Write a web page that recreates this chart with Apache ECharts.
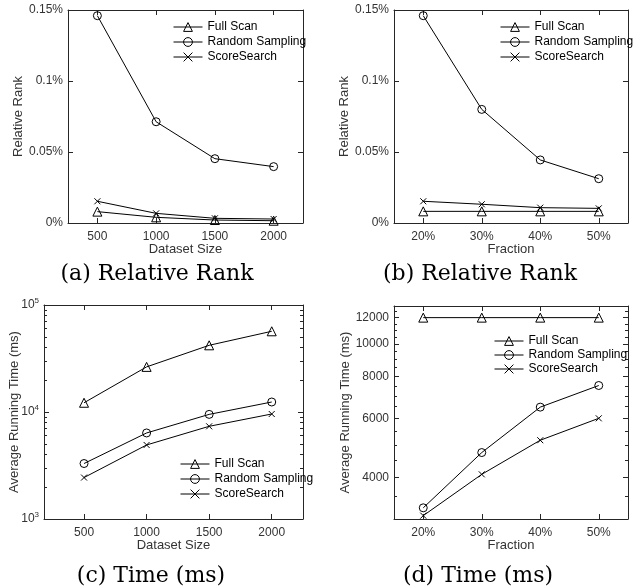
<!DOCTYPE html>
<html>
<head>
<meta charset="utf-8">
<script src="https://cdn.jsdelivr.net/npm/echarts@6/dist/echarts.min.js"></script>
<style>
  html, body { margin: 0; padding: 0; background: #fff; }
  #chart { width: 634px; height: 587px; }
</style>
</head>
<body>
<div id="chart"></div>
<script>
// x values
const sizes = [500, 1000, 1500, 2000];
const fractions = [20, 30, 40, 50];

// (a) relative rank (%) vs dataset size
const rankSizeFull = [0.008, 0.004, 0.0021, 0.0016];
const rankSizeRandom = [0.146, 0.0713, 0.0453, 0.0397];
const rankSizeScore = [0.0153, 0.0068, 0.0033, 0.0028];

// (b) relative rank (%) vs fraction
const rankFracFull = [0.0082, 0.0082, 0.0082, 0.0082];
const rankFracRandom = [0.146, 0.080, 0.0444, 0.0312];
const rankFracScore = [0.0153, 0.0132, 0.0108, 0.0103];

// (c) time (ms) vs dataset size
const timeSizeFull = [12200, 26400, 42000, 56800];
const timeSizeRandom = [3300, 6370, 9500, 12400];
const timeSizeScore = [2440, 4920, 7350, 9580];

// (d) time (ms) vs fraction
const timeFracFull = [12000, 12000, 12000, 12000];
const timeFracRandom = [3240, 4740, 6480, 7520];
const timeFracScore = [3070, 4080, 5160, 6000];

// ticks
const sizeTicks = [500, 1000, 1500, 2000];
const fracTicks = [20, 30, 40, 50];
const rankTicks = [0, 0.05, 0.1, 0.15];
const logTicksC = [1000, 10000, 100000];
const logMinorC = [2000, 3000, 4000, 5000, 6000, 7000, 8000, 9000,
  20000, 30000, 40000, 50000, 60000, 70000, 80000, 90000];
const timeTicksD = [4000, 6000, 8000, 10000, 12000];
const timeMinorD = [3500, 4500, 5000, 5500, 6500, 7000, 7500, 8500, 9000, 9500,
  10500, 11000, 11500, 12500];

const names = ['Full Scan', 'Random Sampling', 'ScoreSearch'];
const symbols = ['triangle', 'circle', 'path://M0,0L10,10M10,0L0,10'];
const symbolSizes = [9, 8, 6];

const axisColor = '#262626';
const labelColor = '#333';
const sans = '"Liberation Sans", Arial, sans-serif';

const grids = [], xAxes = [], yAxes = [], series = [], legends = [];

function panel(p) {
    const g = grids.length;
    grids.push({ left: p.box[0], top: p.box[1], width: p.box[2], height: p.box[3] });

    const xi = xAxes.length;
    xAxes.push({
        type: 'value', gridIndex: g, min: p.xMin, max: p.xMax,
        axisLine: { onZero: false, lineStyle: { color: axisColor } },
        axisTick: { inside: true, length: 5, customValues: p.xTicks, lineStyle: { color: axisColor } },
        axisLabel: { customValues: p.xTicks, formatter: p.xFmt, color: labelColor, fontSize: 12, fontFamily: sans, margin: 8 },
        splitLine: { show: false },
        name: p.xName, nameLocation: 'middle', nameGap: 20, nameMoveOverlap: false,
        nameTextStyle: { color: labelColor, fontSize: 13, fontFamily: sans }
    });
    xAxes.push({
        type: 'value', gridIndex: g, position: 'top', min: p.xMin, max: p.xMax,
        axisLine: { onZero: false, lineStyle: { color: axisColor } },
        axisTick: { inside: true, length: 5, customValues: p.xTicks, lineStyle: { color: axisColor } },
        axisLabel: { show: false }, splitLine: { show: false }
    });

    const yi = yAxes.length;
    const yType = p.log ? 'log' : 'value';
    yAxes.push({
        type: yType, logBase: 10, gridIndex: g, min: p.yMin, max: p.yMax,
        axisLine: { show: true, onZero: false, lineStyle: { color: axisColor } },
        axisTick: { show: true, inside: true, length: 5, customValues: p.yTicks, lineStyle: { color: axisColor } },
        axisLabel: { customValues: p.yTicks, formatter: p.yFmt, color: labelColor, fontSize: 12, fontFamily: sans, margin: 5, rich: p.rich },
        splitLine: { show: false },
        name: p.yName, nameLocation: 'middle', nameGap: p.yGap, nameRotate: 90, nameMoveOverlap: false,
        nameTextStyle: { color: labelColor, fontSize: 13, fontFamily: sans }
    });
    yAxes.push({
        type: yType, logBase: 10, gridIndex: g, position: 'right', min: p.yMin, max: p.yMax,
        axisLine: { show: true, onZero: false, lineStyle: { color: axisColor } },
        axisTick: { show: true, inside: true, length: 5, customValues: p.yTicks, lineStyle: { color: axisColor } },
        axisLabel: { show: false }, splitLine: { show: false }
    });
    if (p.yMinor) {
        ['left', 'right'].forEach(side => {
            yAxes.push({
                type: yType, logBase: 10, gridIndex: g, position: side, min: p.yMin, max: p.yMax,
                axisLine: { show: false },
                axisTick: { show: true, inside: true, length: 3, customValues: p.yMinor, lineStyle: { color: axisColor } },
                axisLabel: { show: false }, splitLine: { show: false }
            });
        });
    }

    p.ys.forEach((ys, k) => {
        series.push({
            type: 'line', name: names[k], xAxisIndex: xi, yAxisIndex: yi,
            data: p.xs.map((x, i) => [x, ys[i]]),
            symbol: symbols[k], symbolSize: symbolSizes[k], showSymbol: true,
            lineStyle: { color: '#000', width: 1 },
            itemStyle: { color: 'rgba(0,0,0,0)', borderColor: '#000', borderWidth: 1 },
            emphasis: { disabled: true }, z: 3 - k
        });
    });

    legends.push({
        orient: 'vertical', left: p.legend[0], top: p.legend[1], padding: 0,
        data: names, itemWidth: 29, itemHeight: 11, itemGap: p.legendGap, itemTextGap: 1,
        textStyle: { color: '#000', fontSize: 12, fontFamily: sans },
        itemStyle: { borderWidth: 1 }, lineStyle: { width: 1 },
        selectedMode: false
    });
}

const pct = v => (v === 0 ? '0' : parseFloat(v.toFixed(4))) + '%';

panel({
    box: [68, 10, 235, 213], xMin: 250, xMax: 2250, xTicks: sizeTicks, xFmt: v => String(v), xName: 'Dataset Size',
    yMin: 0, yMax: 0.15, yTicks: rankTicks, yFmt: pct, yName: 'Relative Rank', yGap: 43,
    xs: sizes, ys: [rankSizeFull, rankSizeRandom, rankSizeScore], legend: [173, 21], legendGap: 3
});
panel({
    box: [394, 10, 234, 213], xMin: 15, xMax: 55, xTicks: fracTicks, xFmt: v => v + '%', xName: 'Fraction',
    yMin: 0, yMax: 0.15, yTicks: rankTicks, yFmt: pct, yName: 'Relative Rank', yGap: 43,
    xs: fractions, ys: [rankFracFull, rankFracRandom, rankFracScore], legend: [500, 21], legendGap: 3
});
panel({
    box: [44, 305, 259, 214], xMin: 180, xMax: 2250, xTicks: sizeTicks, xFmt: v => String(v), xName: 'Dataset Size',
    log: true, yMin: 1000, yMax: 100000, yTicks: logTicksC, yMinor: logMinorC,
    yFmt: v => '{b|10}{s|' + Math.round(Math.log10(v)) + '}',
    rich: { b: { fontSize: 12, color: labelColor, fontFamily: sans }, s: { fontSize: 8, color: labelColor, fontFamily: sans, padding: [0, 0, 8, 0] } },
    yName: 'Average Running Time (ms)', yGap: 23,
    xs: sizes, ys: [timeSizeFull, timeSizeRandom, timeSizeScore], legend: [180, 458], legendGap: 3
});
panel({
    box: [394, 306, 234, 213], xMin: 15, xMax: 55, xTicks: fracTicks, xFmt: v => v + '%', xName: 'Fraction',
    log: true, yMin: 3000, yMax: 13000, yTicks: timeTicksD, yMinor: timeMinorD, yFmt: v => String(v),
    yName: 'Average Running Time (ms)', yGap: 42,
    xs: fractions, ys: [timeFracFull, timeFracRandom, timeFracScore], legend: [494, 335], legendGap: 2
});

const captions = [
    ['(a) Relative Rank', 157, 274],
    ['(b) Relative Rank', 480, 274],
    ['(c) Time (ms)', 151, 576],
    ['(d) Time (ms)', 478, 576]
];

const chart = echarts.init(document.getElementById('chart'), null, { renderer: 'canvas' });
chart.setOption({
    animation: false,
    backgroundColor: '#fff',
    grid: grids, xAxis: xAxes, yAxis: yAxes, series: series, legend: legends,
    graphic: captions.map(c => ({
        type: 'text', x: c[1], y: c[2],
        style: { text: c[0], font: '22px "DejaVu Serif", serif', fill: '#000', align: 'center', verticalAlign: 'middle' }
    }))
});
</script>
</body>
</html>
